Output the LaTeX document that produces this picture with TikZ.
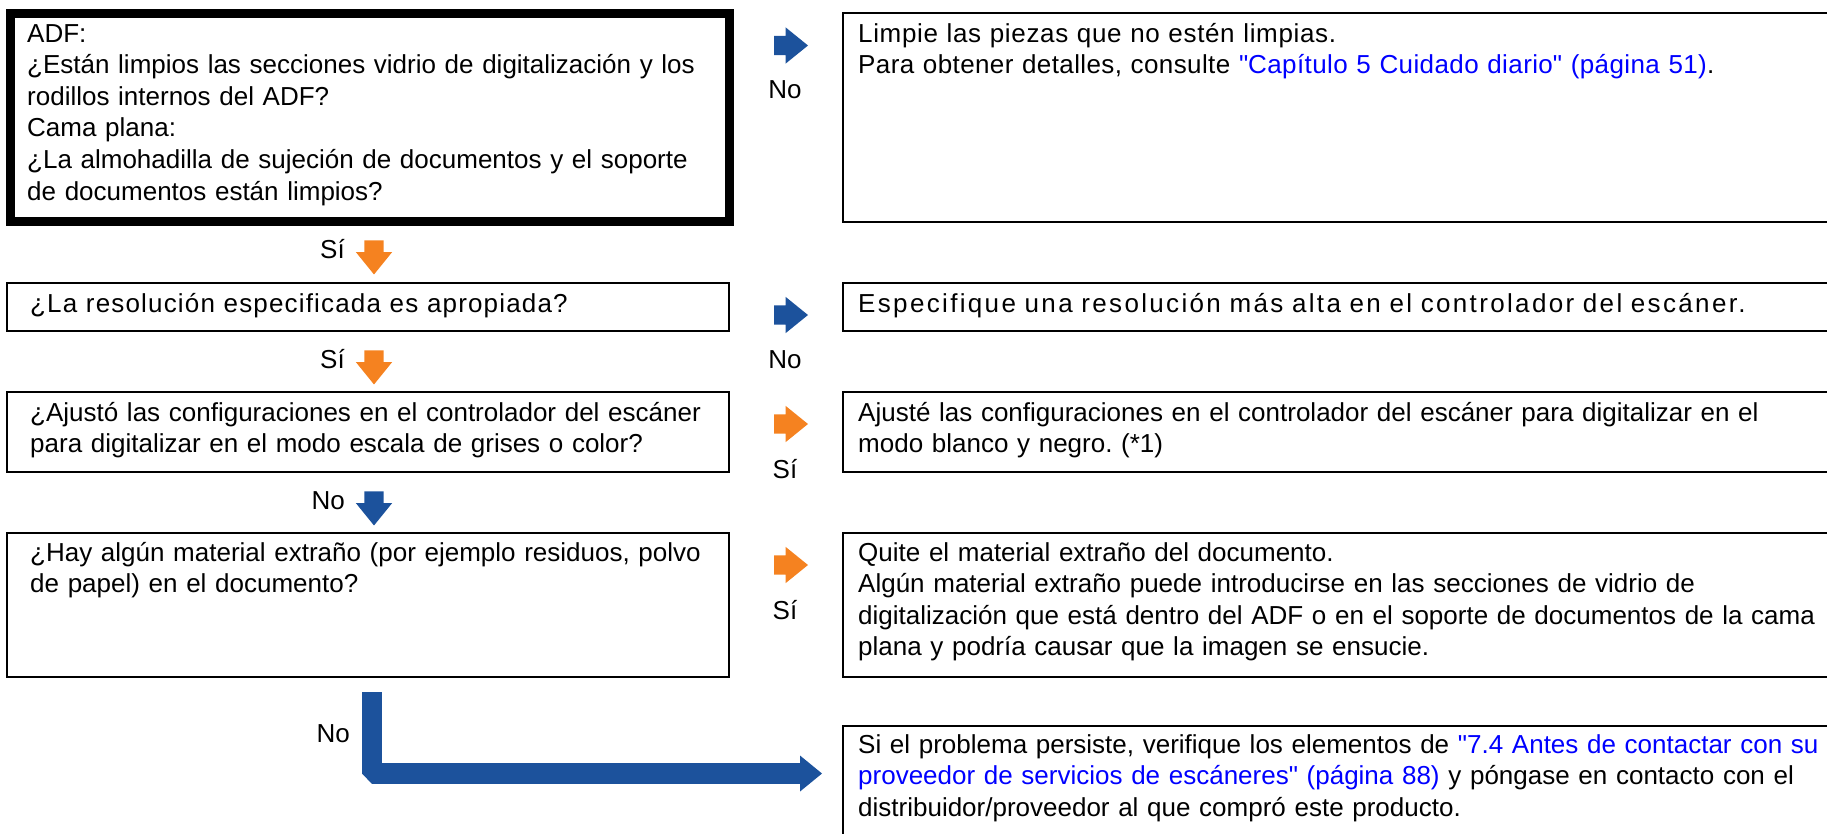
\documentclass[tikz,border=0pt]{standalone}
\usepackage{fontspec}
\setmainfont{Liberation Sans}
\usepackage{xcolor}
\usetikzlibrary{positioning, calc, arrows.meta, shapes.arrows}
\frenchspacing

\definecolor{nobl}{RGB}{28,82,156}
\definecolor{sior}{RGB}{245,130,32}
\definecolor{linkbl}{RGB}{0,0,255}
\newcommand{\lnk}[1]{\textcolor{linkbl}{#1}}
\newcommand{\dq}{\textquotedbl}
\newcommand{\wide}[2]{{\addfontfeature{LetterSpace=#1}#2}}

\tikzset{
  qbox/.style={draw, line width=2.6pt, rectangle, inner sep=0pt, outer sep=0pt, anchor=north west},
  txt/.style={inner sep=0pt, anchor=base west, align=left, text width=1100pt},
  lbl/.style={inner sep=0pt, anchor=base},
  rarr/.style={single arrow, draw=none, inner xsep=0pt, inner ysep=9.5pt, minimum height=34pt,
               single arrow head extend=8.5pt, single arrow tip angle=78},
  darr/.style={rarr, rotate=-90},
  lbar/.style={draw=nobl, line width=20.5pt, line join=bevel,
               -{Triangle[length=22pt, width=36pt, line width=0pt]}},
}

\begin{document}
\begin{tikzpicture}[x=1pt, y=-1pt, font=\fontsize{26}{31.6}\selectfont]

    \useasboundingbox (0,0) rectangle (1827,833);
    \clip (0,0) rectangle (1827,833);

    % Question boxes on the left
    \node[qbox, line width=9pt, minimum width=718.5pt, minimum height=207.5pt] (q1) at (10.5,13.5) {};
    \node[qbox, minimum width=722pt, minimum height=48pt] (q2) at (7,283) {};
    \node[qbox, minimum width=722pt, minimum height=80pt] (q3) at (7,392) {};
    \node[qbox, minimum width=722pt, minimum height=144pt] (q4) at (7,533) {};

    % Answer boxes on the right, cut by the page edge
    \node[qbox, minimum width=1000pt, minimum height=209pt] (a1) at (843,13) {};
    \node[qbox, minimum width=1000pt, minimum height=48pt] (a2) at (843,283) {};
    \node[qbox, minimum width=1000pt, minimum height=80pt] (a3) at (843,392) {};
    \node[qbox, minimum width=1000pt, minimum height=144pt] (a4) at (843,533) {};
    \node[qbox, minimum width=1000pt, minimum height=160pt] (a5) at (843,726) {};

    % Box texts
    \node[txt] (q1t) at ([shift={(16.5,28.5)}]q1.north west) {ADF:\\
        ¿Están limpios las secciones vidrio de digitalización y los\\
        rodillos internos del ADF?\\
        Cama plana:\\
        ¿La almohadilla de sujeción de documentos y el soporte\\
        de documentos están limpios?};
    \node[txt] (q2t) at ([shift={(23,29)}]q2.north west) {\wide{4.5}{¿La resolución especificada es apropiada?}};
    \node[txt] (q3t) at ([shift={(23,29)}]q3.north west) {¿Ajustó las configuraciones en el controlador del escáner\\
        para digitalizar en el modo escala de grises o color?};
    \node[txt] (q4t) at ([shift={(23,28)}]q4.north west) {¿Hay algún material extraño (por ejemplo residuos, polvo\\
        de papel) en el documento?};

    \node[txt] (a1t) at ([shift={(15,29)}]a1.north west) {\wide{2.5}{Limpie las piezas que no estén limpias.}\\
        \wide{1.5}{Para obtener detalles, consulte \lnk{\dq Capítulo 5 Cuidado diario\dq{} (página 51)}.}};
    \node[txt] (a2t) at ([shift={(15,29)}]a2.north west) {\wide{9}{Especifique una resolución más alta en el controlador del escáner.}};
    \node[txt] (a3t) at ([shift={(15,29)}]a3.north west) {Ajusté las configuraciones en el controlador del escáner para digitalizar en el\\
        modo blanco y negro. (*1)};
    \node[txt] (a4t) at ([shift={(15,28)}]a4.north west) {Quite el material extraño del documento.\\
        Algún material extraño puede introducirse en las secciones de vidrio de\\
        digitalización que está dentro del ADF o en el soporte de documentos de la cama\\
        plana y podría causar que la imagen se ensucie.};
    \node[txt] (a5t) at ([shift={(15,27)}]a5.north west) {Si el problema persiste, verifique los elementos de \lnk{\dq 7.4 Antes de contactar con su}\\
        \lnk{proveedor de servicios de escáneres\dq{} (página 88)} y póngase en contacto con el\\
        distribuidor/proveedor al que compró este producto.};

    % Side arrows with their answers
    \node[rarr, fill=nobl] (r1) at (785,45.5) {};
    \node[lbl] (r1l) at (785,98) {No};
    \node[rarr, fill=nobl] (r2) at (785,315) {};
    \node[lbl] (r2l) at (785,368) {No};
    \node[rarr, fill=sior] (r3) at (785,424) {};
    \node[lbl] (r3l) at (785,478) {Sí};
    \node[rarr, fill=sior] (r4) at (785,565) {};
    \node[lbl] (r4l) at (785,619) {Sí};

    % Down arrows between the questions
    \node[darr, fill=sior] (d1) at (374,251.5) {};
    \node[lbl, anchor=base east] (d1l) at (345,258) {Sí};
    \node[darr, fill=sior] (d2) at (374,361.5) {};
    \node[lbl, anchor=base east] (d2l) at (345,368.5) {Sí};
    \node[darr, fill=nobl] (d3) at (374,502.5) {};
    \node[lbl, anchor=base east] (d3l) at (345,509) {No};

    % Last branch to the final answer
    \coordinate (lstart) at (372,692);
    \coordinate (lend) at ([shift={(-21,47.5)}]a5.north west);
    \draw[lbar] (lstart) |- (lend);
    \node[lbl, anchor=base east] (lastl) at (350,742) {No};

\end{tikzpicture}
\end{document}
